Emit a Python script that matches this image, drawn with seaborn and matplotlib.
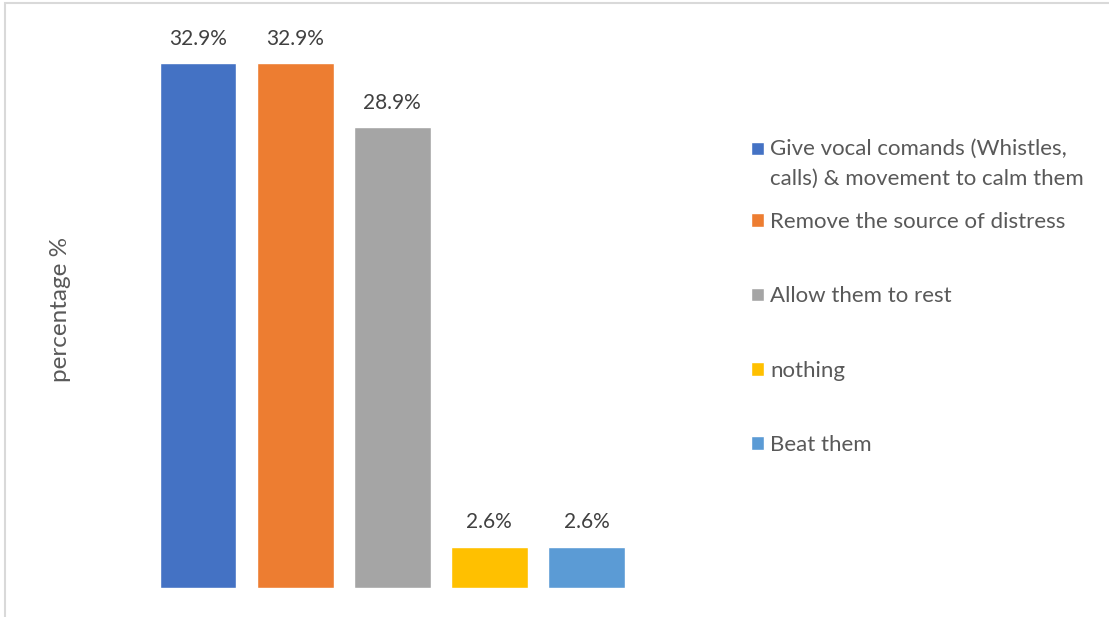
import pandas as pd
import matplotlib.pyplot as plt
import seaborn as sns
from matplotlib.patches import Rectangle

# values
answers = ["Give vocal comands (Whistles,\ncalls) & movement to calm them",
           "Remove the source of distress",
           "Allow them to rest",
           "nothing",
           "Beat them"]
percent = [32.9, 32.9, 28.9, 2.6, 2.6]
colors = ["#4472C4", "#ED7D31", "#A5A5A5", "#FFC000", "#5B9BD5"]

df = pd.DataFrame({"answer": answers, "percent": percent})

sns.set_style("white")
plt.rcParams["font.family"] = ["Lato", "DejaVu Sans"]

W, H = 1109, 617
fig = plt.figure(figsize=(W / 100, H / 100), dpi=100)
ax = fig.add_axes([149.5 / W, 29 / H, 485.5 / W, 558 / H])

sns.barplot(data=df, x="answer", y="percent", hue="answer", palette=colors,
            order=answers, hue_order=answers, dodge=False, width=0.79,
            saturation=1, legend=True, ax=ax)

for c in ax.containers:
    ax.bar_label(c, fmt="%.1f%%", padding=10.5, fontsize=15, color="#404040")

ax.set_ylim(0, 35)
ax.set_xlim(-0.5, 4.5)
ax.set_xticks([])
ax.set_yticks([])
ax.set_xlabel("")
ax.set_ylabel("percentage %", fontsize=17.5, color="#595959")
ax.yaxis.set_label_coords((71 - 149.5) / 485.5, 0.5)
sns.despine(ax=ax, left=True, bottom=True)

handles, labels = ax.get_legend_handles_labels()
ax.get_legend().remove()
leg_kw = dict(frameon=False, fontsize=16, handlelength=0.58, handleheight=0.58,
              handletextpad=0.28, borderpad=0, borderaxespad=0,
              labelcolor="#595959", loc="center left", bbox_transform=fig.transFigure)
leg1 = ax.legend(handles[:1], labels[:1], bbox_to_anchor=(751 / W, 1 - 164 / H), **leg_kw)
for t in leg1.get_texts():
    t.set_linespacing(1.62)
leg1.legend_handles[0].set_y(leg1.legend_handles[0].get_y() + 11.3)
ax.add_artist(leg1)
ax.legend(handles[1:], labels[1:], bbox_to_anchor=(751 / W, 1 - 333.5 / H),
          labelspacing=2.45, **leg_kw)

# chart frame, cut off on the right and bottom
fig.add_artist(Rectangle((4.5 / W, -0.5), 2, 1.5 - 2.5 / H, transform=fig.transFigure,
                         fill=False, edgecolor="#D9D9D9", lw=1.5))

fig.savefig("out.png", dpi=100)
